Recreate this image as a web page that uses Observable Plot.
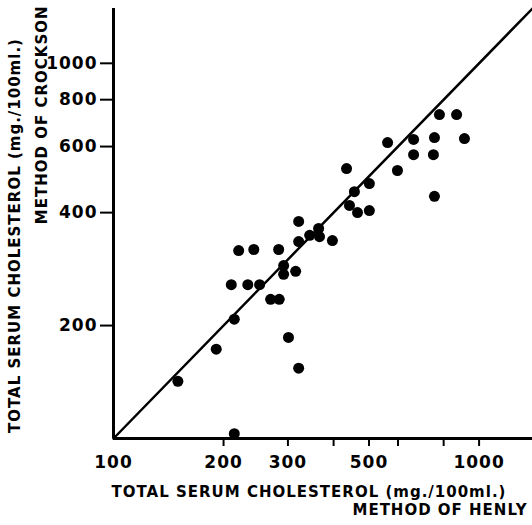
<!DOCTYPE html>
<html>
<head>
<meta charset="utf-8">
<script src="https://cdn.jsdelivr.net/npm/d3@7"></script>
<script src="https://cdn.jsdelivr.net/npm/@observablehq/plot@0.6"></script>
<style>
  html, body { margin: 0; padding: 0; background: #fff; }
  svg { display: block; }
</style>
</head>
<body>
<div id="chart"></div>
<script>
// Method of Henly (x) vs method of Crockson (y), mg./100ml.
const henly    = [150,191,214,214,210,233,251,220,242,269,284,283,292,292,315,301,321,321,321,344,364,366,397,434,442,456,465,501,501,562,598,662,662,755,750,755,779,868,912];
const crockson = [142,173,208,103,257,257,257,317,319,235,235,319,289,274,279,186,154,335,379,348,363,345,337,524,418,455,400,405,478,615,518,627,571,634,571,442,730,730,630];

const xTicks  = [200, 300, 400, 500, 600, 800, 1000];
const xLabels = [100, 200, 300, 500, 1000];
const yTicks  = [200, 400, 600, 800, 1000];
const axisDomain = [100, 1400];
const identityLine = [100, 1400];

const xTitle1 = "TOTAL SERUM CHOLESTEROL (mg./100ml.)";
const xTitle2 = "METHOD OF HENLY";
const yTitle1 = "TOTAL SERUM CHOLESTEROL (mg./100ml.)";
const yTitle2 = "METHOD OF CROCKSON";

const data = henly.map((h, i) => ({h, c: crockson[i]}));

const chart = Plot.plot({
  width: 532,
  height: 525,
  marginLeft: 113,
  marginRight: 0,
  marginTop: 8,
  marginBottom: 87,
  style: {fontFamily: "DejaVu Sans", fontWeight: "bold", background: "white", color: "black", letterSpacing: "1px"},
  x: {type: "log", domain: axisDomain},
  y: {type: "log", domain: axisDomain},
  marks: [
    Plot.axisX({ticks: xTicks, tickSize: 8, strokeWidth: 2, tickFormat: () => "", label: null}),
    Plot.axisX({ticks: xLabels, tickSize: 0, tickPadding: 17, fontSize: 17, tickFormat: d => String(d), label: null}),
    Plot.axisY({ticks: yTicks, tickSize: 13, tickPadding: 3, strokeWidth: 2, fontSize: 17, tickFormat: d => String(d), label: null}),
    Plot.ruleX([axisDomain[0]], {strokeWidth: 3}),
    Plot.ruleY([axisDomain[0]], {strokeWidth: 3}),
    Plot.line(identityLine, {x: d => d, y: d => d, strokeWidth: 2.5}),
    Plot.dot(data, {x: "h", y: "c", r: 5.5, fill: "black"}),
    Plot.text([xTitle1], {frameAnchor: "bottom", textAnchor: "middle", dx: -14, dy: 58, fontSize: 15, fontWeight: "bold"}),
    Plot.text([xTitle2], {frameAnchor: "bottom-right", textAnchor: "end", dx: -5, dy: 76, fontSize: 15, fontWeight: "bold"}),
    Plot.text([yTitle1], {frameAnchor: "left", rotate: -90, textAnchor: "middle", dx: -98, dy: 12, fontSize: 15, fontWeight: "bold"}),
    Plot.text([yTitle2], {frameAnchor: "top-left", rotate: -90, textAnchor: "end", dx: -77, dy: -3, fontSize: 15, fontWeight: "bold"})
  ]
});
document.getElementById("chart").appendChild(chart);
</script>
</body>
</html>
